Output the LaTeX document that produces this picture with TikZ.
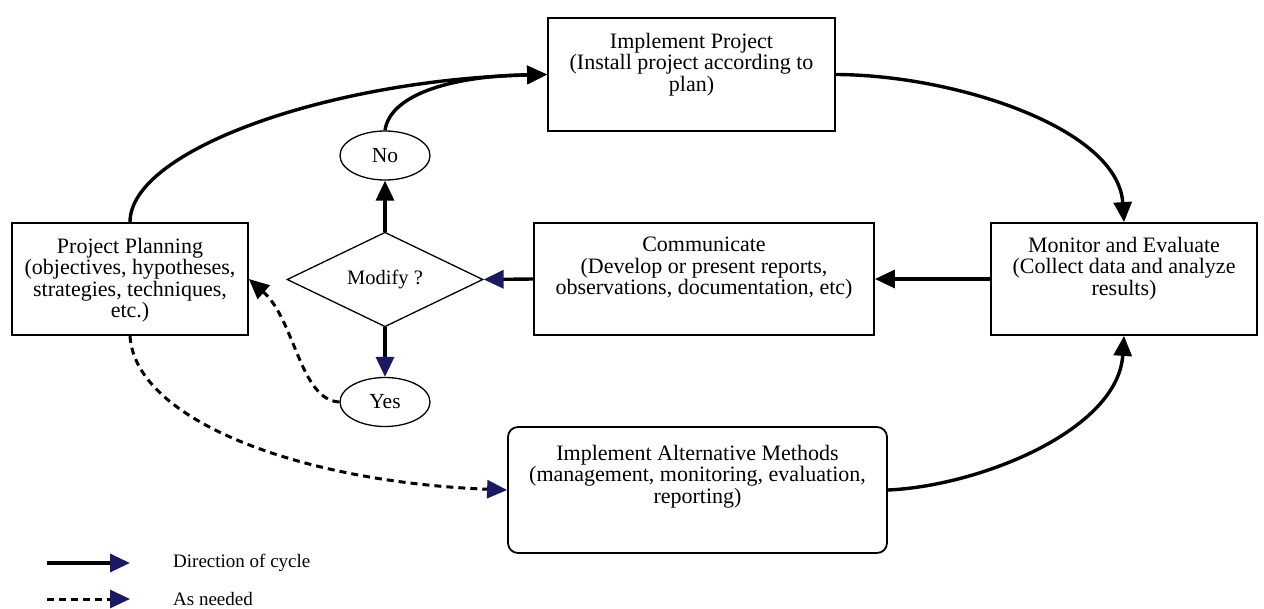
\documentclass[tikz,border=0pt]{standalone}
\usepackage{fontspec}
\setmainfont{Liberation Serif}
\usetikzlibrary{arrows.meta,shapes.geometric}
\definecolor{tipnavy}{RGB}{25,25,100}
\begin{document}
\begin{tikzpicture}[x=1pt,y=-1pt,
  boxshape/.style={draw,line width=1.8pt,inner sep=0pt},
  boxtxt/.style={anchor=north,inner sep=0pt,align=center,font=\fontsize{22}{21.5}\selectfont},
  oval/.style={ellipse,draw,line width=1.3pt,minimum width=90pt,minimum height=49pt,inner sep=0pt,font=\fontsize{21.5}{22}\selectfont},
  flow/.style={line width=3.4pt,-{Triangle[length=20pt,width=18pt]}},
  navyflow/.style={line width=3.4pt,-{Triangle[length=20pt,width=18pt,color=tipnavy,fill=tipnavy]}},
  dashflow/.style={line width=3pt,dash pattern=on 7pt off 5pt,-{Triangle[length=20pt,width=18pt]}},
  navydash/.style={line width=3pt,dash pattern=on 7pt off 5pt,-{Triangle[length=20pt,width=18pt,color=tipnavy,fill=tipnavy]}},
  legtxt/.style={anchor=west,inner sep=0pt,font=\fontsize{19}{20}\selectfont}
]
\fill[white] (0,0) rectangle (1264,608);
\useasboundingbox (0,0) rectangle (1264,608);

% boxes
\node[boxshape,minimum width=287pt,minimum height=113pt] (ip) at (691.5,74.5) {};
\node[boxtxt] (iptext) at (691.5,33) {Implement Project\\(Install project according to\\plan)};

\node[boxshape,minimum width=236pt,minimum height=112pt] (pp) at (130,279) {};
\node[boxtxt] (pptext) at (130,238) {Project Planning\\(objectives, hypotheses,\\strategies, techniques,\\etc.)};

\node[boxshape,minimum width=340pt,minimum height=112pt] (comm) at (704,279) {};
\node[boxtxt] (commtext) at (704,237) {Communicate\\(Develop or present reports,\\observations, documentation, etc)};

\node[boxshape,minimum width=266pt,minimum height=112pt] (mon) at (1124,279) {};
\node[boxtxt] (montext) at (1124,237) {Monitor and Evaluate\\(Collect data and analyze\\results)};

\node[boxshape,rounded corners=10pt,minimum width=379pt,minimum height=126pt] (alt) at (697.5,490) {};
\node[boxtxt] (alttext) at (697.5,445) {Implement Alternative Methods\\(management, monitoring, evaluation,\\reporting)};

% decision
\node[diamond,draw,line width=1.3pt,minimum width=196pt,minimum height=75pt,inner sep=0pt,font=\fontsize{20.5}{21}\selectfont] (dia) at (385,279.5) {Modify ?};
\node[oval] (no) at (385,155.5) {No};
\node[oval] (yes) at (385,402) {Yes};

% cycle connectors
\draw[flow] (pp.north) .. controls (130,150) and (330,80) .. (ip.west);
\draw[flow] (no.north) .. controls (390,95) and (450,76) .. (ip.west);
\draw[flow] (ip.east) .. controls (955,75) and (1118,128) .. (mon.north);
\draw[flow] (mon.west) -- (comm.east);
\draw[navyflow] (comm.west) -- (dia.east);
\draw[flow] (dia.north) -- (no.south);
\draw[navyflow] (dia.south) -- (yes.north);
\draw[flow] (alt.east) .. controls (980,486) and (1118,430) .. (mon.south);

% as-needed connectors
\draw[dashflow] (yes.west) .. controls (300,400) and (295,320) .. (pp.east);
\draw[navydash] (pp.south) .. controls (135,420) and (300,482) .. (alt.west);

% legend
\coordinate (l1a) at (47,563);
\coordinate (l1b) at (130,563);
\coordinate (l2a) at (47,599);
\coordinate (l2b) at (130,599);
\draw[navyflow] (l1a) -- (l1b);
\draw[navydash] (l2a) -- (l2b);
\node[legtxt] (leg1) at (173,563) {Direction of cycle};
\node[legtxt] (leg2) at (173,599) {As needed};
\end{tikzpicture}
\end{document}
